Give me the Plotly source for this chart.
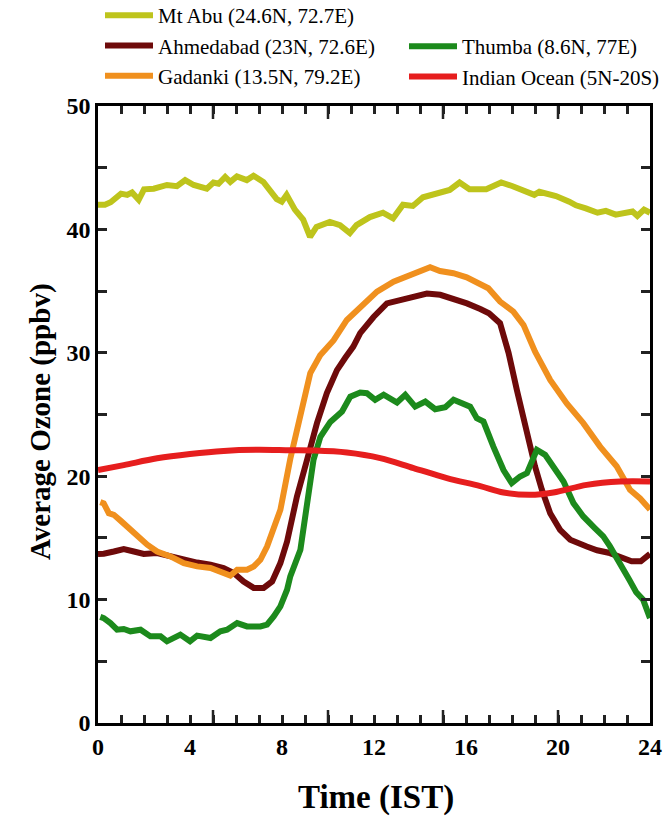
import plotly.graph_objects as go

# ---------------- data ----------------
mtabu_h = [0.0, 0.3, 0.55, 1.0, 1.27, 1.48, 1.77, 2.0, 2.42, 3.0, 3.43, 3.79, 4.16, 4.73, 5.02, 5.24,
           5.53, 5.75, 6.04, 6.47, 6.76, 7.19, 7.77, 7.99, 8.2, 8.56, 8.92, 9.22, 9.5, 10.08, 10.52,
           10.95, 11.24, 11.82, 12.39, 12.83, 13.26, 13.69, 14.13, 14.71, 15.29, 15.72, 16.15, 16.88,
           17.53, 18.03, 18.61, 18.97, 19.19, 19.91, 20.49, 20.78, 21.21, 21.72, 22.08, 22.51, 23.24,
           23.45, 23.74, 24.0]
mtabu_v = [42.0, 42.0, 42.2, 42.9, 42.8, 43.0, 42.4, 43.25, 43.3, 43.6, 43.5, 44.0, 43.6, 43.3, 43.8, 43.7,
           44.25, 43.85, 44.3, 44.0, 44.35, 43.85, 42.45, 42.25, 42.8, 41.6, 40.8, 39.4, 40.2, 40.6, 40.35,
           39.7, 40.35, 41.0, 41.35, 40.9, 42.0, 41.9, 42.6, 42.95, 43.2, 43.8, 43.25, 43.25,
           43.8, 43.5, 43.1, 42.8, 43.05, 42.7, 42.25, 41.95, 41.7, 41.35, 41.5, 41.2, 41.45,
           41.1, 41.6, 41.35]

ahmedabad_h = [0.0, 0.25, 0.69, 1.12, 1.56, 1.99, 2.57, 3.15, 3.73, 4.31, 4.89, 5.46, 5.9, 6.33, 6.77,
               7.2, 7.57, 7.93, 8.22, 8.65, 9.09, 9.52, 9.95, 10.39, 10.75, 11.1, 11.4, 11.98, 12.56,
               13.14, 13.72, 14.3, 14.88, 15.46, 16.04, 16.62, 17.0, 17.48, 17.85, 18.21, 18.65, 19.0,
               19.3, 19.66, 20.09, 20.53, 21.25, 21.7, 22.2, 22.7, 23.2, 23.6, 24.0]
ahmedabad_v = [13.7, 13.72, 13.9, 14.1, 13.9, 13.7, 13.77, 13.5, 13.3, 13.0, 12.83, 12.56, 12.15, 11.47, 10.95,
               10.95, 11.47, 12.96, 14.7, 18.36, 21.33, 24.3, 26.73, 28.6, 29.6, 30.5, 31.6, 32.9, 34.0,
               34.3, 34.55, 34.8, 34.7, 34.4, 34.0, 33.55, 33.2, 32.4, 30.0, 27.0, 23.5, 20.8,
               18.9, 17.0, 15.66, 14.85, 14.3, 14.0, 13.8, 13.4, 13.1, 13.1, 13.7]

gadanki_h = [0.1, 0.25, 0.47, 0.69, 0.98, 1.27, 1.56, 1.85, 2.14, 2.57, 3.15, 3.73, 4.31, 4.89, 5.46, 5.75,
             6.05, 6.48, 6.77, 7.06, 7.35, 7.64, 7.93, 8.36, 8.8, 9.23, 9.66, 10.24, 10.82, 11.4, 12.13,
             12.85, 13.57, 14.0, 14.44, 14.87, 15.45, 16.03, 16.6, 16.97, 17.48, 18.06, 18.5, 19.0,
             19.66, 20.38, 21.1, 21.83, 22.55, 23.13, 23.57, 24.0]
gadanki_v = [17.9, 17.8, 17.0, 16.87, 16.4, 15.93, 15.45, 14.85, 14.45, 13.9, 13.5, 12.96, 12.69, 12.56, 12.2, 11.94,
             12.42, 12.42, 12.69, 13.23, 14.3, 15.66, 17.28, 21.4, 24.83, 28.35, 29.8, 31.0, 32.66, 33.74, 34.96,
             35.77, 36.31, 36.58, 36.93, 36.63, 36.45, 36.12, 35.5, 35.23, 34.15, 33.34, 32.26, 30.1,
             27.8, 25.9, 24.3, 22.4, 20.8, 18.9, 18.2, 17.3]

thumba_h = [0.1, 0.25, 0.54, 0.83, 1.12, 1.41, 1.85, 2.28, 2.72, 3.0, 3.58, 4.0, 4.31, 4.89, 5.32, 5.61,
            6.05, 6.48, 7.06, 7.35, 7.64, 7.93, 8.22, 8.36, 8.8, 9.09, 9.37, 9.67, 10.1, 10.61, 10.97,
            11.4, 11.69, 12.05, 12.42, 13.0, 13.36, 13.79, 14.23, 14.66, 15.1, 15.46, 15.89, 16.18,
            16.47, 16.76, 17.19, 17.63, 17.99, 18.35, 18.65, 18.86, 19.08, 19.44, 19.8, 20.24, 20.67,
            21.1, 21.6, 21.97, 22.26, 22.5, 22.8, 23.1, 23.4, 23.7, 24.0]
thumba_v = [8.6, 8.5, 8.1, 7.56, 7.62, 7.43, 7.56, 7.02, 7.02, 6.62, 7.16, 6.62, 7.08, 6.89, 7.43, 7.56,
            8.1, 7.83, 7.83, 7.97, 8.64, 9.45, 10.8, 11.88, 14.04, 18.1, 21.33, 23.2, 24.4, 25.24, 26.45,
            26.78, 26.73, 26.19, 26.6, 25.97, 26.6, 25.64, 26.05, 25.43, 25.59, 26.19, 25.92, 25.64,
            24.7, 24.43, 22.4, 20.5, 19.44, 19.98, 20.25, 21.06, 22.14, 21.73, 20.79, 19.57, 17.82,
            16.74, 15.8, 15.12, 14.31, 13.6, 12.6, 11.6, 10.6, 10.0, 8.5]

ocean_h = [0.0, 1.12, 2.57, 4.0, 5.46, 6.91, 8.36, 9.37, 10.82, 12.27, 13.72, 15.17, 16.62, 17.63,
           18.79, 19.8, 21.25, 22.7, 24.0]
ocean_v = [20.5, 20.9, 21.45, 21.8, 22.05, 22.14, 22.1, 22.08, 21.92, 21.47, 20.66, 19.85, 19.2, 18.68,
           18.49, 18.68, 19.3, 19.57, 19.57]

series_names = ["Mt Abu (24.6N, 72.7E)", "Ahmedabad (23N, 72.6E)", "Gadanki (13.5N, 79.2E)",
                "Thumba (8.6N, 77E)", "Indian Ocean (5N-20S)"]

x_label_ticks = [0, 4, 8, 12, 16, 20, 24]
x_minor_ticks = list(range(0, 25))
x_long_ticks = [5, 10, 15, 20]
y_label_ticks = [0, 10, 20, 30, 40, 50]
y_minor_ticks = [5, 15, 25, 35, 45]

# ---------------- styling ----------------
colors = ["#bec41c", "#6e0a0a", "#f0901e", "#1c8a1c", "#e61e1e"]
serif = "Liberation Serif"
LW = 6
TICK = "#222222"

# pixel geometry of the plotting area
W, H = 667, 819
ML, MR, MT, MB = 98, 17, 106, 96
PW, PH = W - ML - MR, H - MT - MB


def px_x(p):
    return (p - ML) / PW


def px_y(p):
    return (H - MB - p) / PH


fig = go.Figure()
data = [(mtabu_h, mtabu_v), (ahmedabad_h, ahmedabad_v), (gadanki_h, gadanki_v),
        (thumba_h, thumba_v), (ocean_h, ocean_v)]
legends = ["legend", "legend", "legend", "legend2", "legend2"]
for i, ((hx, vy), name) in enumerate(zip(data, series_names)):
    fig.add_trace(go.Scatter(
        x=hx, y=vy, mode="lines", name=name,
        line=dict(color=colors[i], width=LW,
                  shape="spline" if i == 4 else "linear", smoothing=1.0),
        legend=legends[i], legendgroup=f"g{i}",
    ))

# longer tick marks at every 5 h (bottom and top frame), positioned on the x axis scale
long_len = 13 / PH
shapes = []
for v in x_long_ticks:
    for y0, y1 in ((0, long_len), (1, 1 - long_len)):
        shapes.append(dict(type="line", xref="x", yref="y domain", x0=v, x1=v, y0=y0, y1=y1,
                           line=dict(color=TICK, width=2.5), layer="above"))

tickfont = dict(family=serif, size=24, color="black", weight="bold")
fig.update_layout(
    width=W, height=H,
    margin=dict(l=ML, r=MR, t=MT, b=MB, autoexpand=False),
    paper_bgcolor="white", plot_bgcolor="white",
    showlegend=True,
    xaxis=dict(range=[0, 24], tickmode="array", tickvals=x_label_ticks,
               ticks="inside", ticklen=8, tickwidth=2.5, tickcolor=TICK,
               showline=True, linewidth=2.5, linecolor="black", mirror="ticks",
               showgrid=False, zeroline=False, tickfont=tickfont,
               minor=dict(tickmode="array", tickvals=x_minor_ticks, ticks="inside",
                          ticklen=8, tickwidth=2.5, tickcolor=TICK, showgrid=False)),
    yaxis=dict(range=[0, 50], tickmode="array", tickvals=y_label_ticks,
               ticks="inside", ticklen=9, tickwidth=2.5, tickcolor=TICK,
               showline=True, linewidth=2.5, linecolor="black", mirror="ticks",
               showgrid=False, zeroline=False, tickfont=tickfont,
               minor=dict(tickmode="array", tickvals=y_minor_ticks, ticks="inside",
                          ticklen=9, tickwidth=2.5, tickcolor=TICK, showgrid=False)),
    legend=dict(xref="paper", yref="paper", x=px_x(100), y=px_y(-5),
                xanchor="left", yanchor="top", orientation="v", itemwidth=48,
                bgcolor="rgba(0,0,0,0)", borderwidth=0, tracegroupgap=0,
                font=dict(family=serif, size=21, color="black")),
    legend2=dict(xref="paper", yref="paper", x=px_x(404), y=px_y(26),
                 xanchor="left", yanchor="top", orientation="v", itemwidth=48,
                 bgcolor="rgba(0,0,0,0)", borderwidth=0, tracegroupgap=0,
                 font=dict(family=serif, size=21, color="black")),
    shapes=shapes,
    annotations=[
        dict(text="<b>Average Ozone (ppbv)</b>", xref="paper", yref="paper",
             x=px_x(40), y=px_y(422), textangle=-90, showarrow=False,
             xanchor="center", yanchor="middle",
             font=dict(family=serif, size=29, color="black")),
        dict(text="<b>Time (IST)</b>", xref="paper", yref="paper",
             x=px_x(376), y=px_y(797), showarrow=False,
             xanchor="center", yanchor="middle",
             font=dict(family=serif, size=33, color="black")),
    ],
)

fig.write_html("out.html")
